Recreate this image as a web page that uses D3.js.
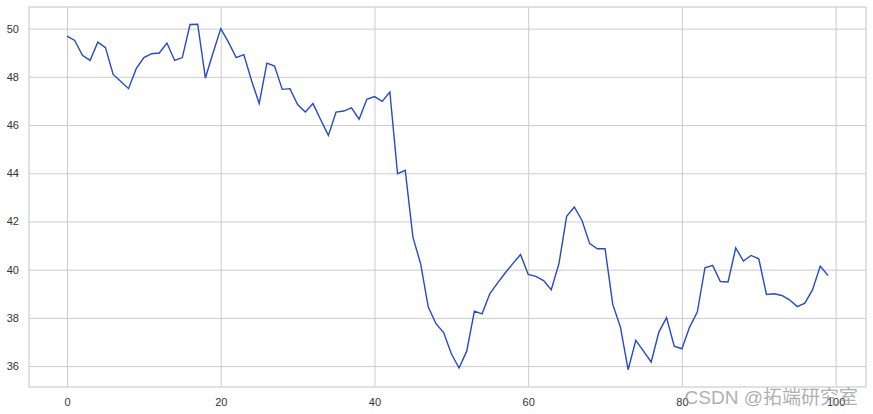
<!DOCTYPE html>
<html>
<head>
<meta charset="utf-8">
<script src="https://cdn.jsdelivr.net/npm/d3@7"></script>
<style>
  body { margin: 0; background: #fff; }
  svg { display: block; font-family: "Liberation Sans", Arial, sans-serif; }
  .grid line { stroke: #cccccc; stroke-width: 1; }
  .tick text { fill: #333; font-size: 11px; }
</style>
</head>
<body>
<svg width="873" height="414"></svg>
<script>
// series values, index 0..99
var values = [
  49.69, 49.51, 48.89, 48.68, 49.44, 49.21, 48.10, 47.81, 47.51, 48.34,
  48.80, 48.96, 48.99, 49.40, 48.68, 48.80, 50.17, 50.18, 47.95, 49.00,
  50.00, 49.44, 48.80, 48.92, 47.85, 46.89, 48.57, 48.45, 47.48, 47.51,
  46.85, 46.54, 46.89, 46.22, 45.57, 46.54, 46.58, 46.71, 46.24, 47.07,
  47.18, 46.98, 47.37, 43.98, 44.12, 41.35, 40.25, 38.45, 37.76, 37.39,
  36.51, 35.92, 36.62, 38.28, 38.17, 39.00, 39.44, 39.86, 40.25, 40.63,
  39.80, 39.72, 39.55, 39.17, 40.25, 42.21, 42.60, 42.04, 41.08, 40.87,
  40.87, 38.56, 37.62, 35.85, 37.07, 36.62, 36.17, 37.41, 38.01, 36.83,
  36.72, 37.62, 38.24, 40.08, 40.18, 39.51, 39.49, 40.90, 40.36, 40.59,
  40.45, 38.97, 39.00, 38.93, 38.75, 38.47, 38.61, 39.17, 40.15, 39.76
];
var xTicks = [0, 20, 40, 60, 80, 100];
var yTicks = [36, 38, 40, 42, 44, 46, 48, 50];

var margin = { top: 7, right: 7, bottom: 27, left: 29 },
    width = 873 - margin.left - margin.right,
    height = 414 - margin.top - margin.bottom;

var data = values.map(function (v, i) { return { i: i, v: v }; });

// matplotlib style 5% padding
var xExt = [0, values.length - 1], xPad = (xExt[1] - xExt[0]) * 0.05;
var yExt = d3.extent(values), yPad = (yExt[1] - yExt[0]) * 0.05;

var x = d3.scaleLinear().domain([xExt[0] - xPad, xExt[1] + xPad]).range([0, width]);
var y = d3.scaleLinear().domain([yExt[0] - yPad, yExt[1] + yPad]).range([height, 0]);

var svg = d3.select("svg").append("g")
    .attr("transform", "translate(" + margin.left + "," + margin.top + ")");

// grid + ticks
svg.append("g").attr("class", "grid")
    .attr("transform", "translate(0," + height + ")")
    .call(d3.axisBottom(x).tickValues(xTicks).tickSize(-height).tickPadding(11).tickFormat(d3.format("d")))
    .call(function (g) { g.select(".domain").remove(); });

svg.append("g").attr("class", "grid")
    .call(d3.axisLeft(y).tickValues(yTicks).tickSize(-width).tickPadding(10).tickFormat(d3.format("d")))
    .call(function (g) { g.select(".domain").remove(); });

// frame
svg.append("rect")
    .attr("x", 0).attr("y", 0)
    .attr("width", width).attr("height", height)
    .attr("fill", "none").attr("stroke", "#cccccc").attr("stroke-width", 1.2);

var line = d3.line()
    .x(function (d) { return x(d.i); })
    .y(function (d) { return y(d.v); });

svg.append("path").datum(data)
    .attr("d", line)
    .attr("fill", "none")
    .attr("stroke", "#2549cc")
    .attr("stroke-width", 1.4);

// watermark
d3.select("svg").append("text")
    .attr("x", 858).attr("y", 404)
    .attr("text-anchor", "end")
    .attr("font-size", 19)
    .attr("font-family", "'Liberation Sans', 'Noto Sans CJK SC', sans-serif")
    .attr("fill", "#999")
    .attr("fill-opacity", 0.8)
    .text("CSDN @拓端研究室");
</script>
</body>
</html>
